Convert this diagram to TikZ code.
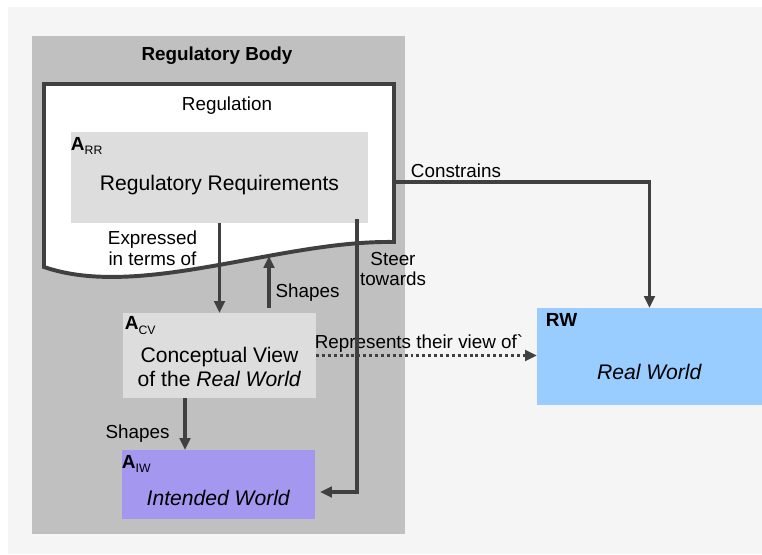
\documentclass[tikz,border=0pt]{standalone}
\usepackage{fontspec}
\setmainfont{Liberation Sans}
\definecolor{panelgray}{HTML}{F5F5F5}
\definecolor{bodygray}{HTML}{C0C0C0}
\definecolor{reqgray}{HTML}{DDDDDD}
\definecolor{intendpurple}{HTML}{A397F0}
\definecolor{realblue}{HTML}{99CCFF}
\definecolor{linegray}{HTML}{404040}
\usetikzlibrary{arrows.meta, positioning, calc}
\newcommand{\asub}[1]{\textbf{A}\raisebox{-3.1pt}{\fontsize{8.7}{9}\selectfont #1}}
\tikzset{
    bodybox/.style={rectangle, fill=bodygray, inner sep=0pt, outer sep=0pt,
                    minimum width=9.325cm, minimum height=12.45cm},
    reqbox/.style={rectangle, fill=reqgray, inner sep=0pt, outer sep=0pt, align=center,
                   font=\fontsize{15}{16.6}\selectfont, text depth=3.1pt},
    alab/.style={anchor=north west, inner xsep=0pt, inner ysep=3.6pt, outer sep=0pt,
                 font=\fontsize{13.5}{14}\selectfont},
    lbl/.style={inner sep=0pt, align=center, font=\fontsize{13.4}{14.7}\selectfont},
    headlbl/.style={lbl, font=\fontsize{13.4}{14.7}\selectfont\bfseries},
    docline/.style={draw=linegray, line width=2.8pt, fill=white},
    arrow/.style={-{Triangle[length=8.5pt, width=7.5pt]}, line width=2.8pt, draw=linegray},
    dotarrow/.style={arrow, dash pattern=on 2.1pt off 2.1pt},
}
\begin{document}
\begin{tikzpicture}[x=0.025cm, y=-0.025cm]
\useasboundingbox (0,0) rectangle (762,554);
\fill[panelgray] (8,7) rectangle (762,554);

% regulatory body
\node[bodybox] (body) at (218.5,285) {};
\node[headlbl] (bodytitle) at (217,56) {Regulatory Body};

% regulation document
\draw[docline] (44,84) -- (394,84) -- (394,242) .. controls (280,240) and (140,300) .. (44,267) -- cycle;
\coordinate (wave) at (269,256);
\coordinate (docR) at (394,182);
\node[lbl] (regtitle) at (227,106) {Regulation};

% worlds
\node[reqbox, minimum width=7.425cm, minimum height=2.275cm, text height=21.9pt,
      label={[alab]north west:\asub{RR}}] (rr) at (219.5,177.5) {Regulatory Requirements};
\node[reqbox, minimum width=4.825cm, minimum height=2.125cm, text height=46.5pt,
      label={[alab, inner ysep=2.6pt, xshift=1.4pt]north west:\asub{CV}}] (cv) at (219.5,355.5) {Conceptual View\\of the \textit{Real World}};
\node[reqbox, fill=intendpurple, minimum width=4.825cm, minimum height=1.725cm, text height=32.3pt,
      label={[alab]north west:\asub{IW}}] (iw) at (218.5,484.5) {\textit{Intended World}};
\node[reqbox, fill=realblue, minimum width=5.625cm, minimum height=2.425cm, text height=36.5pt,
      label={[alab, xshift=6.4pt]north west:\textbf{RW}}] (rw) at (649.5,356.5) {\textit{Real World}};

% links
\draw[arrow] (rr) -- (cv);
\node[lbl] (expr) at (152.5,248.5) {Expressed\\in terms of};
\draw[arrow, shorten <=3.5pt] (cv.north -| wave) -- (wave);
\node[lbl] (shapesup) at (307.5,293) {Shapes};
\draw[arrow] ([xshift=-0.8625cm]cv.south) -- ([xshift=-0.8625cm]cv.south |- iw.north);
\node[lbl] (shapesdown) at (137.5,434) {Shapes};
\draw[arrow] (docR) -| (rw);
\node[lbl] (constr) at (456,171) {Constrains};
\draw[dotarrow] (cv.east) -- (cv.east -| rw.west);
\node[lbl] (repr) at (419,344) {Represents their view of\textasciigrave};
\draw[arrow, shorten >=3.5pt] ([shift={(-0.275cm,0.1cm)}]rr.south east) |- ([yshift=-0.1875cm]iw.east);
\node[lbl] (steer) at (393,269) {Steer\\towards};
\end{tikzpicture}
\end{document}
